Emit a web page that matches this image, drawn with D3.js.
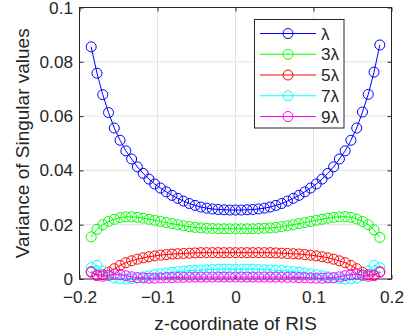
<!DOCTYPE html>
<html>
<head>
<meta charset="utf-8">
<script src="https://cdn.jsdelivr.net/npm/d3@7"></script>
<style>
  body { margin: 0; background: #fff; }
  text { font-family: "Liberation Sans", Arial, Helvetica, sans-serif; fill: #262626; }
</style>
</head>
<body>
<div class="canvas"></div>
<script>
// z-coordinate of RIS (x values)
const zCoords = [
  -0.185, -0.1776, -0.1702, -0.1628, -0.1554, -0.148, -0.1406, -0.1332, -0.1258, -0.1184,
  -0.111, -0.1036, -0.0962, -0.0888, -0.0814, -0.074, -0.0666, -0.0592, -0.0518, -0.0444,
  -0.037, -0.0296, -0.0222, -0.0148, -0.0074, 0,
  0.0074, 0.0148, 0.0222, 0.0296, 0.037, 0.0444, 0.0518, 0.0592, 0.0666, 0.074,
  0.0814, 0.0888, 0.0962, 0.1036, 0.111, 0.1184, 0.1258, 0.1332, 0.1406, 0.148,
  0.1554, 0.1628, 0.1702, 0.1776, 0.185
]

// Series values
const lambda1 = [
  0.0855, 0.0758, 0.0679, 0.0613, 0.0556, 0.0511, 0.0472, 0.0442, 0.0413, 0.0389,
  0.0368, 0.0350, 0.0335, 0.0321, 0.0308, 0.0297, 0.0287, 0.0278, 0.0271, 0.0265,
  0.0261, 0.0258, 0.0256, 0.0255, 0.0254, 0.0254,
  0.0254, 0.0255, 0.0256, 0.0258, 0.0261, 0.0265, 0.0271, 0.0278, 0.0287, 0.0297,
  0.0308, 0.0321, 0.0335, 0.0350, 0.0368, 0.0389, 0.0413, 0.0442, 0.0472, 0.0511,
  0.0556, 0.0615, 0.0680, 0.0762, 0.0862
]
const lambda3 = [
  0.0155, 0.0183, 0.0200, 0.0212, 0.0220, 0.0226, 0.0229, 0.0229, 0.0227, 0.0224,
  0.0220, 0.0216, 0.0212, 0.0208, 0.0204, 0.0200, 0.0196, 0.0193, 0.0190, 0.0188,
  0.0187, 0.0186, 0.0185, 0.0185, 0.0185, 0.0185,
  0.0185, 0.0185, 0.0185, 0.0186, 0.0187, 0.0188, 0.0190, 0.0193, 0.0196, 0.0200,
  0.0204, 0.0208, 0.0212, 0.0216, 0.0220, 0.0224, 0.0227, 0.0229, 0.0230, 0.0227,
  0.0221, 0.0212, 0.0200, 0.0181, 0.0153
]
const lambda5 = [
  0.0027, 0.0015, 0.0016, 0.0025, 0.0038, 0.0050, 0.0060, 0.0067, 0.0073, 0.0078,
  0.0082, 0.0085, 0.0088, 0.0090, 0.0092, 0.0093, 0.0094, 0.0095, 0.0096, 0.0097,
  0.0097, 0.0097, 0.0097, 0.0097, 0.0097, 0.0097,
  0.0097, 0.0097, 0.0097, 0.0097, 0.0097, 0.0097, 0.0096, 0.0095, 0.0094, 0.0093,
  0.0092, 0.0090, 0.0088, 0.0085, 0.0082, 0.0078, 0.0073, 0.0067, 0.0060, 0.0050,
  0.0038, 0.0025, 0.0016, 0.0015, 0.0027
]
const lambda7 = [
  0.0042, 0.0050, 0.0030, 0.0012, 0.0004, 0.0001, 0.0000, 0.0001, 0.0004, 0.0008,
  0.0012, 0.0016, 0.0019, 0.0022, 0.0025, 0.0027, 0.0029, 0.0031, 0.0032, 0.0033,
  0.0034, 0.0035, 0.0036, 0.0036, 0.0036, 0.0036,
  0.0036, 0.0036, 0.0036, 0.0035, 0.0034, 0.0033, 0.0032, 0.0031, 0.0029, 0.0027,
  0.0025, 0.0022, 0.0019, 0.0016, 0.0012, 0.0008, 0.0004, 0.0001, 0.0000, 0.0001,
  0.0004, 0.0012, 0.0030, 0.0050, 0.0042
]
const lambda9 = [
  0.0025, 0.0012, 0.0010, 0.0014, 0.0018, 0.0016, 0.0012, 0.0008, 0.0005, 0.0004,
  0.0003, 0.0003, 0.0004, 0.0005, 0.0005, 0.0006, 0.0006, 0.0007, 0.0007, 0.0007,
  0.0007, 0.0007, 0.0007, 0.0007, 0.0007, 0.0007,
  0.0007, 0.0007, 0.0007, 0.0007, 0.0007, 0.0007, 0.0007, 0.0007, 0.0006, 0.0006,
  0.0005, 0.0005, 0.0004, 0.0003, 0.0003, 0.0004, 0.0005, 0.0008, 0.0012, 0.0016,
  0.0018, 0.0014, 0.0010, 0.0012, 0.0025
]

const seriesNames = ['λ', '3λ', '5λ', '7λ', '9λ']
const seriesColors = ['#0000ff', '#00ff00', '#ff0000', '#00ffff', '#ff00ff']
const seriesValues = [lambda1, lambda3, lambda5, lambda7, lambda9]

const xTicks = [-0.2, -0.1, 0, 0.1, 0.2]
const yTicks = [0, 0.02, 0.04, 0.06, 0.08, 0.1]

// SVG
const svg = d3.select('.canvas')
  .append('svg')
    .attr('width', 407)
    .attr('height', 334)

// Plot box
const box = {left: 79.5, right: 391.5, top: 7.5, bottom: 279}
const tickFont = 17.2
const labelFont = 19

const x = d3.scaleLinear()
  .domain([-0.2, 0.2])
  .range([box.left, box.right])

const y = d3.scaleLinear()
  .domain([0, 0.1])
  .range([box.bottom, box.top])

const fmt = (d) => d3.format('')(+d.toFixed(2))

// Grid lines
const grid = svg.append('g')
grid.selectAll('line.gx')
  .data(xTicks.slice(1, -1))
  .enter().append('line')
    .attr('x1', (d) => x(d)).attr('x2', (d) => x(d))
    .attr('y1', box.top).attr('y2', box.bottom)
    .attr('stroke', '#e3e3e3')
grid.selectAll('line.gy')
  .data(yTicks.slice(1, -1))
  .enter().append('line')
    .attr('y1', (d) => y(d)).attr('y2', (d) => y(d))
    .attr('x1', box.left).attr('x2', box.right)
    .attr('stroke', '#e3e3e3')

// Axes (ticks pointing inward)
const xAxis = svg.append('g')
  .attr('transform', `translate(0,${box.bottom})`)
  .call(d3.axisBottom(x).tickValues(xTicks).tickFormat(fmt).tickSizeInner(-4).tickSizeOuter(0).tickPadding(12))
const xAxisTop = svg.append('g')
  .attr('transform', `translate(0,${box.top})`)
  .call(d3.axisTop(x).tickValues(xTicks).tickFormat('').tickSizeInner(-4).tickSizeOuter(0))
const yAxis = svg.append('g')
  .attr('transform', `translate(${box.left},0)`)
  .call(d3.axisLeft(y).tickValues(yTicks).tickFormat(fmt).tickSizeInner(-4).tickSizeOuter(0).tickPadding(6.5))
const yAxisRight = svg.append('g')
  .attr('transform', `translate(${box.right},0)`)
  .call(d3.axisRight(y).tickValues(yTicks).tickFormat('').tickSizeInner(-4).tickSizeOuter(0))

svg.selectAll('.domain').remove()
svg.selectAll('.tick line').attr('stroke', '#262626')
svg.selectAll('.tick text')
  .attr('font-size', tickFont)
  .attr('font-family', '"Liberation Sans", Arial, sans-serif')
  .attr('fill', '#262626')

svg.append('rect')
  .attr('x', box.left).attr('y', box.top)
  .attr('width', box.right - box.left).attr('height', box.bottom - box.top)
  .attr('fill', 'none')
  .attr('stroke', '#262626')

// Series lines and circle markers
const line = d3.line()
  .x((d, i) => x(zCoords[i]))
  .y((d) => y(d))

const plot = svg.append('g')
seriesValues.forEach((vals, k) => {
  const g = plot.append('g')
  g.append('path')
    .attr('d', line(vals))
    .attr('fill', 'none')
    .attr('stroke', seriesColors[k])
    .attr('stroke-width', 1)
  g.selectAll('circle')
    .data(vals)
    .enter().append('circle')
      .attr('cx', (d, i) => x(zCoords[i]))
      .attr('cy', (d) => y(d))
      .attr('r', 5)
      .attr('fill', 'none')
      .attr('stroke', seriesColors[k])
      .attr('stroke-width', 1)
})

// Axis titles
svg.append('text')
  .attr('x', (box.left + box.right) / 2)
  .attr('y', 330)
  .attr('text-anchor', 'middle')
  .attr('font-size', labelFont)
  .text('z-coordinate of RIS')

svg.append('text')
  .attr('transform', `translate(28.5,${(box.top + box.bottom) / 2}) rotate(-90)`)
  .attr('text-anchor', 'middle')
  .attr('font-size', labelFont)
  .text('Variance of Singular values')

// Legend
const legend = svg.append('g')
legend.append('rect')
  .attr('x', 254.5).attr('y', 19.5)
  .attr('width', 89.5).attr('height', 108.5)
  .attr('fill', '#fff')
  .attr('stroke', '#262626')

const legendRow = d3.scaleLinear()
  .domain([0, 4])
  .range([33.5, 116.5])

seriesNames.forEach((name, k) => {
  const ly = legendRow(k)
  legend.append('line')
    .attr('x1', 260).attr('x2', 316)
    .attr('y1', ly).attr('y2', ly)
    .attr('stroke', seriesColors[k])
    .attr('stroke-width', 1)
  legend.append('circle')
    .attr('cx', 288).attr('cy', ly).attr('r', 5)
    .attr('fill', 'none')
    .attr('stroke', seriesColors[k])
  legend.append('text')
    .attr('x', 321).attr('y', ly)
    .attr('dy', '0.35em')
    .attr('font-size', tickFont)
    .text(name)
})
</script>
</body>
</html>
